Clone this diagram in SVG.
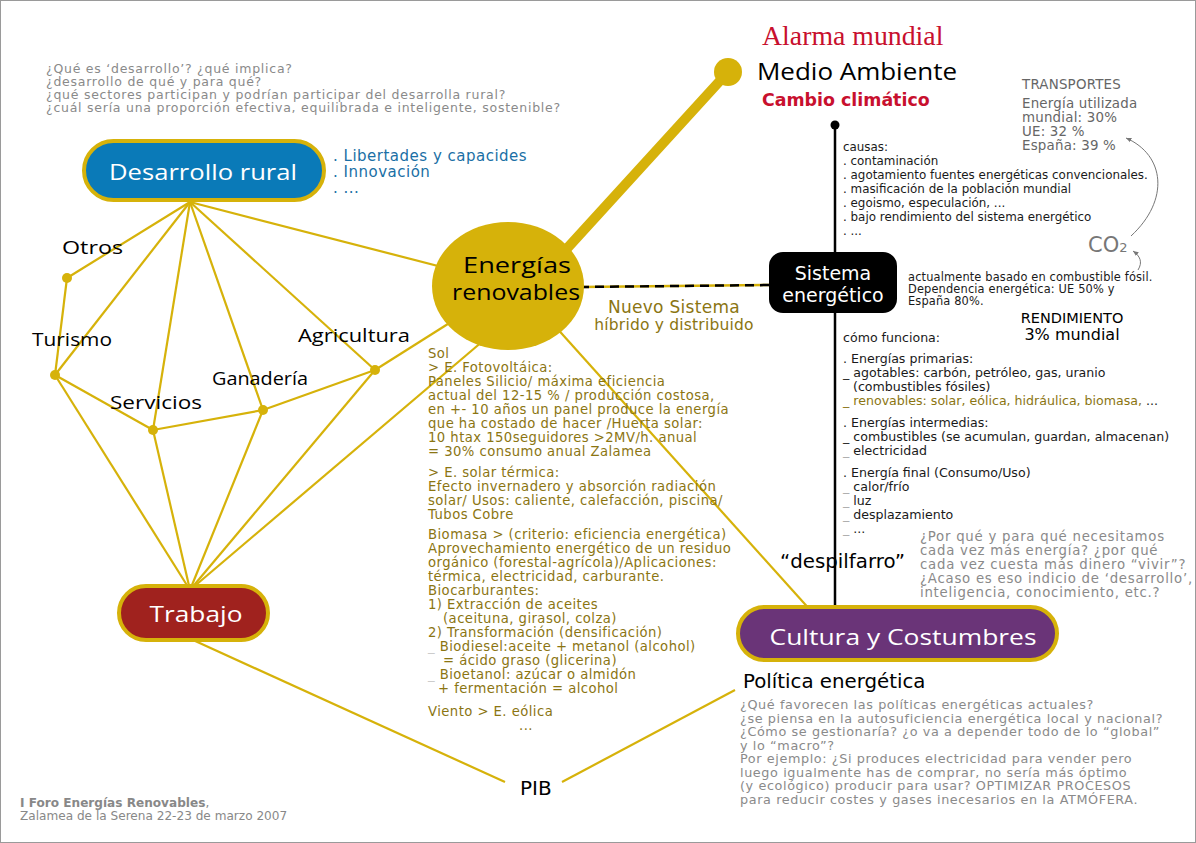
<svg xmlns="http://www.w3.org/2000/svg" width="1196" height="843" viewBox="0 0 1196 843">
<style>
.hand{font-family:"Open Sans","DejaVu Sans",sans-serif;}
.v{font-family:"DejaVu Sans","Liberation Sans",sans-serif;}
.q{font-family:"DejaVu Sans",sans-serif;font-size:12.5px;letter-spacing:0.75px;fill:#8a8a8a;}
.p{font-family:"DejaVu Sans",sans-serif;font-size:12.8px;letter-spacing:0.6px;fill:#8a8a8a;}
.r{font-family:"DejaVu Sans",sans-serif;font-size:13.3px;letter-spacing:0.75px;fill:#8a8a8a;}
.g{font-family:"DejaVu Sans",sans-serif;font-size:13.2px;letter-spacing:0.45px;fill:#8b7512;}
.b{font-family:"DejaVu Sans",sans-serif;font-size:11.9px;fill:#1a1a1a;}
.s{font-family:"DejaVu Sans",sans-serif;font-size:11.4px;letter-spacing:0.15px;fill:#1a1a1a;}
.c{font-family:"DejaVu Sans",sans-serif;font-size:12.6px;fill:#1a1a1a;}
.t{font-family:"DejaVu Sans",sans-serif;font-size:13.4px;letter-spacing:0.2px;fill:#666;}
.gl{stroke:#d6b20a;stroke-width:2.2;fill:none;}
.dot{fill:#d6b20a;}
.lbl{font-family:"Open Sans","DejaVu Sans",sans-serif;font-size:19px;fill:#000;}
.pill{stroke:#d6b20a;stroke-width:4;}
.wt{fill:#fff;font-size:22px;text-anchor:middle;}
</style>
<defs>
<marker id="ah" viewBox="0 0 10 10" refX="9" refY="5" markerWidth="6" markerHeight="6" orient="auto">
<path d="M0,1 L9,5 L0,9 z" fill="#777"/>
</marker>
</defs>
<rect x="0.5" y="0.5" width="1195" height="842" fill="#fff" stroke="#9a9a9a"/>

<g id="connectors">
<line class="gl" x1="190" y1="202" x2="67" y2="278"/>
<line class="gl" x1="190" y1="202" x2="55" y2="375"/>
<line class="gl" x1="190" y1="202" x2="153" y2="430"/>
<line class="gl" x1="190" y1="202" x2="263" y2="410"/>
<line class="gl" x1="190" y1="202" x2="375" y2="370"/>
<line class="gl" x1="190" y1="202" x2="500" y2="282"/>
<line class="gl" x1="67" y1="278" x2="55" y2="375"/>
<line class="gl" x1="55" y1="375" x2="153" y2="430"/>
<line class="gl" x1="153" y1="430" x2="263" y2="410"/>
<line class="gl" x1="263" y1="410" x2="375" y2="370"/>
<line class="gl" x1="375" y1="370" x2="470" y2="310"/>
<line class="gl" x1="55" y1="375" x2="190" y2="590"/>
<line class="gl" x1="153" y1="430" x2="190" y2="590"/>
<line class="gl" x1="263" y1="410" x2="190" y2="590"/>
<line class="gl" x1="375" y1="370" x2="190" y2="590"/>
<line class="gl" x1="490" y1="335" x2="190" y2="590"/>
<line class="gl" x1="545" y1="315" x2="812" y2="612"/>
<line class="gl" x1="193" y1="640" x2="505" y2="782"/>
<line class="gl" x1="562" y1="782" x2="735" y2="690"/>
<line x1="520" y1="300" x2="728" y2="72" stroke="#d6b20a" stroke-width="10" stroke-linecap="round"/>
<line x1="580" y1="287" x2="772" y2="285" stroke="#d6b20a" stroke-width="2.5"/>
<line x1="580" y1="287" x2="772" y2="285" stroke="#000" stroke-width="2.5" stroke-dasharray="9,6"/>
<line x1="835" y1="125" x2="835" y2="610" stroke="#000" stroke-width="2.5"/>
<circle cx="835" cy="125" r="4.5" fill="#000"/>
<path d="M1131,236 C1170,200 1165,155 1126,138" fill="none" stroke="#777" stroke-width="1" marker-end="url(#ah)"/>
<path d="M1138,270 C1143,262 1140,256 1133,251" fill="none" stroke="#777" stroke-width="1" marker-end="url(#ah)"/>
</g>

<g id="dots">
<circle class="dot" cx="67" cy="278" r="5"/>
<circle class="dot" cx="55" cy="375" r="5"/>
<circle class="dot" cx="153" cy="430" r="5"/>
<circle class="dot" cx="263" cy="410" r="5"/>
<circle class="dot" cx="375" cy="370" r="5"/>
<circle class="dot" cx="728" cy="72" r="14"/>
</g>

<g id="questions-top">
<text class="q" x="46" y="73">¿Qué es ‘desarrollo’? ¿qué implica?</text>
<text class="q" x="46" y="86">¿desarrollo de qué y para qué?</text>
<text class="q" x="46" y="99">¿qué sectores participan y podrían participar del desarrolla rural?</text>
<text class="q" x="46" y="112">¿cuál sería una proporción efectiva, equilibrada e inteligente, sostenible?</text>
</g>

<g id="desarrollo-rural">
<rect class="pill" x="84" y="141" width="240" height="59" rx="29.5" fill="#0a7ab8"/>
<text class="hand wt" x="203" y="180" textLength="188" lengthAdjust="spacingAndGlyphs">Desarrollo rural</text>
<text class="v" x="333" y="161" font-size="15" letter-spacing="0.5" fill="#1a6fa5">. Libertades y capacides</text>
<text class="v" x="333" y="177" font-size="15" letter-spacing="0.5" fill="#1a6fa5">. Innovación</text>
<text class="v" x="333" y="193" font-size="15" letter-spacing="0.5" fill="#1a6fa5">. ...</text>
</g>

<g id="otros"><text class="lbl" x="62" y="254" textLength="61" lengthAdjust="spacingAndGlyphs">Otros</text></g>
<g id="turismo"><text class="lbl" x="32" y="346" textLength="80" lengthAdjust="spacingAndGlyphs">Turismo</text></g>
<g id="servicios"><text class="lbl" x="110" y="409" textLength="92" lengthAdjust="spacingAndGlyphs">Servicios</text></g>
<g id="ganaderia"><text class="lbl" x="212" y="385" textLength="96" lengthAdjust="spacingAndGlyphs">Ganadería</text></g>
<g id="agricultura"><text class="lbl" x="298" y="342" textLength="112" lengthAdjust="spacingAndGlyphs">Agricultura</text></g>

<g id="energias-renovables">
<ellipse cx="508" cy="286" rx="76" ry="64" fill="#d6b20a"/>
<text class="hand" x="517" y="273" font-size="21" text-anchor="middle" textLength="108" lengthAdjust="spacingAndGlyphs">Energías</text>
<text class="hand" x="516" y="300" font-size="21" text-anchor="middle" textLength="128" lengthAdjust="spacingAndGlyphs">renovables</text>
</g>

<g id="nuevo-sistema">
<text class="v" x="674" y="313" font-size="17" letter-spacing="0.3" fill="#8b7512" text-anchor="middle">Nuevo Sistema</text>
<text class="v" x="674" y="330" font-size="15.5" letter-spacing="0.2" fill="#8b7512" text-anchor="middle">híbrido y distribuido</text>
</g>

<g id="alarma">
<text x="762" y="45" font-family="Liberation Serif,serif" font-size="27.8" fill="#c8102e">Alarma mundial</text>
<text class="hand" x="757" y="80" font-size="24" fill="#000" textLength="200" lengthAdjust="spacingAndGlyphs">Medio Ambiente</text>
<text x="762" y="106" font-family="DejaVu Sans,sans-serif" font-weight="bold" font-size="17.4" fill="#c8102e">Cambio climático</text>
</g>

<g id="transportes">
<text class="t" x="1022" y="89">TRANSPORTES</text>
<text class="t" x="1022" y="108">Energía utilizada</text>
<text class="t" x="1022" y="122">mundial: 30%</text>
<text class="t" x="1022" y="136">UE: 32 %</text>
<text class="t" x="1022" y="150">España: 39 %</text>
<text class="v" x="1088" y="252" font-size="21" fill="#777">CO<tspan font-size="13">2</tspan></text>
</g>

<g id="causas">
<text class="b" x="843" y="151">causas:</text>
<text class="b" x="843" y="165">. contaminación</text>
<text class="b" x="843" y="179">. agotamiento fuentes energéticas convencionales.</text>
<text class="b" x="843" y="193">. masificación de la población mundial</text>
<text class="b" x="843" y="207">. egoismo, especulación, ...</text>
<text class="b" x="843" y="221">. bajo rendimiento del sistema energético</text>
<text class="b" x="843" y="235">. ...</text>
</g>

<g id="sistema-energetico">
<rect x="769" y="252" width="128" height="61" rx="14" fill="#000"/>
<text class="v" x="833" y="280" font-size="19" fill="#fff" text-anchor="middle">Sistema</text>
<text class="v" x="833" y="302" font-size="19" fill="#fff" text-anchor="middle">energético</text>
<text class="s" x="908" y="281">actualmente basado en combustible fósil.</text>
<text class="s" x="908" y="293">Dependencia energética: UE 50% y</text>
<text class="s" x="908" y="305">España 80%.</text>
<text class="v" x="1072" y="323" font-size="14.5" fill="#000" text-anchor="middle">RENDIMIENTO</text>
<text class="v" x="1072" y="340" font-size="16" fill="#000" text-anchor="middle">3% mundial</text>
</g>

<g id="como-funciona">
<text class="c" x="843" y="342">cómo funciona:</text>
<text class="c" x="843" y="363">. Energías primarias:</text>
<text class="c" x="843" y="377">_ agotables: carbón, petróleo, gas, uranio</text>
<text class="c" x="853" y="391">(combustibles fósiles)</text>
<text class="c" x="843" y="405"><tspan fill="#8b7512">_ renovables: solar, eólica, hidráulica, biomasa, </tspan>...</text>
<text class="c" x="843" y="427">. Energías intermedias:</text>
<text class="c" x="843" y="441">_ combustibles (se acumulan, guardan, almacenan)</text>
<text class="c" x="843" y="455"><tspan fill="#aaa">_</tspan> electricidad</text>
<text class="c" x="843" y="477">. Energía final (Consumo/Uso)</text>
<text class="c" x="843" y="491"><tspan fill="#aaa">_</tspan> calor/frío</text>
<text class="c" x="843" y="505"><tspan fill="#aaa">_</tspan> luz</text>
<text class="c" x="843" y="519"><tspan fill="#aaa">_</tspan> desplazamiento</text>
<text class="c" x="843" y="533"><tspan fill="#aaa">_</tspan> ...</text>
</g>

<g id="questions-right">
<text class="r" x="920" y="541">¿Por qué y para qué necesitamos</text>
<text class="r" x="920" y="555">cada vez más energía? ¿por qué</text>
<text class="r" x="920" y="569">cada vez cuesta más dinero “vivir”?</text>
<text class="r" x="920" y="583">¿Acaso es eso indicio de ‘desarrollo’,</text>
<text class="r" x="920" y="597">inteligencia, conocimiento, etc.?</text>
</g>

<g id="despilfarro"><text class="v" x="780" y="568" font-size="19.8" fill="#000">“despilfarro”</text></g>

<g id="sol">
<text class="g" x="428" y="358">Sol</text>
<text class="g" x="428" y="372">&gt; E. Fotovoltáica:</text>
<text class="g" x="428" y="386">Paneles Silicio/ máxima eficiencia</text>
<text class="g" x="428" y="400">actual del 12-15 % / producción costosa,</text>
<text class="g" x="428" y="414">en +- 10 años un panel produce la energía</text>
<text class="g" x="428" y="428">que ha costado de hacer /Huerta solar:</text>
<text class="g" x="428" y="442">10 htax 150seguidores &gt;2MV/h. anual</text>
<text class="g" x="428" y="456">= 30% consumo anual Zalamea</text>
<text class="g" x="428" y="477">&gt; E. solar térmica:</text>
<text class="g" x="428" y="491">Efecto invernadero y absorción radiación</text>
<text class="g" x="428" y="505">solar/ Usos: caliente, calefacción, piscina/</text>
<text class="g" x="428" y="519">Tubos Cobre</text>
<text class="g" x="428" y="539">Biomasa &gt; (criterio: eficiencia energética)</text>
<text class="g" x="428" y="553">Aprovechamiento energético de un residuo</text>
<text class="g" x="428" y="567">orgánico (forestal-agrícola)/Aplicaciones:</text>
<text class="g" x="428" y="581">térmica, electricidad, carburante.</text>
<text class="g" x="428" y="595">Biocarburantes:</text>
<text class="g" x="428" y="609">1) Extracción de aceites</text>
<text class="g" x="443" y="623">(aceituna, girasol, colza)</text>
<text class="g" x="428" y="637">2) Transformación (densificación)</text>
<text class="g" x="428" y="651"><tspan fill="#ccc">_</tspan> Biodiesel:aceite + metanol (alcohol)</text>
<text class="g" x="443" y="665">= ácido graso (glicerina)</text>
<text class="g" x="428" y="679"><tspan fill="#ccc">_</tspan> Bioetanol: azúcar o almidón</text>
<text class="g" x="438" y="693">+ fermentación = alcohol</text>
<text class="g" x="428" y="716">Viento &gt; E. eólica</text>
<text class="g" x="519" y="730">...</text>
</g>

<g id="trabajo">
<rect class="pill" x="119" y="586" width="149" height="54" rx="27" fill="#a0221e"/>
<text class="hand wt" x="196" y="622" textLength="93" lengthAdjust="spacingAndGlyphs">Trabajo</text>
</g>

<g id="cultura-costumbres">
<rect class="pill" x="738" y="607" width="319" height="53" rx="26.5" fill="#6a3478"/>
<text class="hand wt" x="903" y="645" textLength="267" lengthAdjust="spacingAndGlyphs">Cultura y Costumbres</text>
</g>

<g id="politica">
<text class="v" x="743" y="688" font-size="19.8" fill="#000">Política energética</text>
<text class="p" x="740" y="709">¿Qué favorecen las políticas energéticas actuales?</text>
<text class="p" x="740" y="722.5">¿se piensa en la autosuficiencia energética local y nacional?</text>
<text class="p" x="740" y="736">¿Cómo se gestionaría? ¿o va a depender todo de lo “global”</text>
<text class="p" x="740" y="749.5">y lo “macro”?</text>
<text class="p" x="740" y="763">Por ejemplo: ¿Si produces electricidad para vender pero</text>
<text class="p" x="740" y="776.5">luego igualmente has de comprar, no sería más óptimo</text>
<text class="p" x="740" y="790">(y ecológico) producir para usar? OPTIMIZAR PROCESOS</text>
<text class="p" x="740" y="803.5">para reducir costes y gases inecesarios en la ATMÓFERA.</text>
</g>

<g id="pib"><text class="v" x="520" y="795" font-size="20" fill="#000">PIB</text></g>

<g id="footer">
<text class="v" x="20" y="807" font-size="12.1" fill="#888"><tspan font-weight="bold">I Foro Energías Renovables</tspan>,</text>
<text class="v" x="20" y="820" font-size="12.1" fill="#888">Zalamea de la Serena 22-23 de marzo 2007</text>
</g>
</svg>
